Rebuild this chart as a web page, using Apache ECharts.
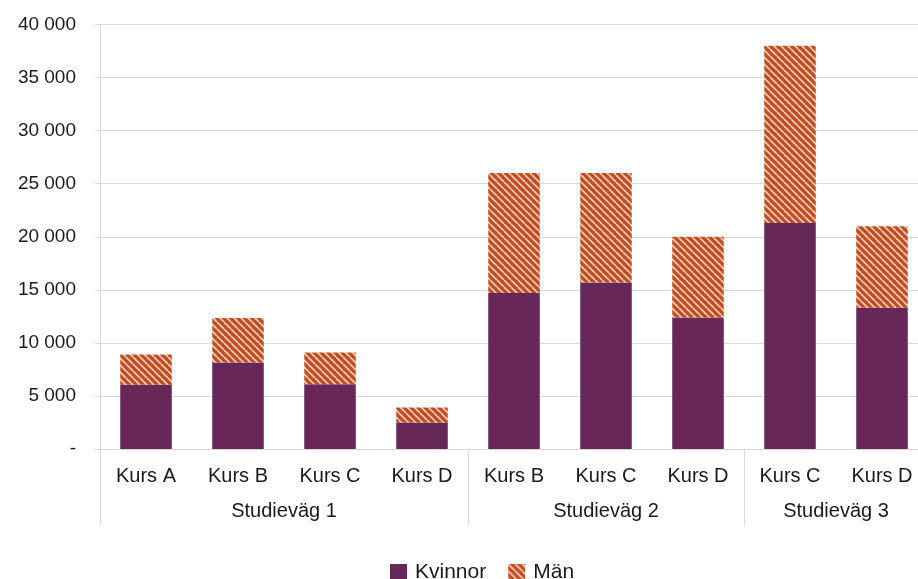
<!DOCTYPE html>
<html>
<head>
<meta charset="utf-8">
<script src="https://cdn.jsdelivr.net/npm/echarts@6/dist/echarts.min.js"></script>
<style>
html,body{margin:0;padding:0;background:#fff;overflow:hidden;width:918px;height:579px;}
#chart{width:928px;height:579px;}
</style>
</head>
<body>
<div id="chart"></div>
<script>
const courses = ['Kurs A','Kurs B','Kurs C','Kurs D','Kurs B','Kurs C','Kurs D','Kurs C','Kurs D'];
const groups = ['Studieväg 1','Studieväg 2','Studieväg 3'];
const groupSizes = [4,3,2];
const kvinnor = [6050, 8150, 6100, 2500, 14700, 15700, 12400, 21300, 13300];
const man = [2850, 4200, 3000, 1400, 11300, 10300, 7600, 16700, 7700];
const yTicks = [0,5000,10000,15000,20000,25000,30000,35000,40000];

// group boundaries and centers derived from group sizes
const bounds = [0];
groupSizes.forEach(s => bounds.push(bounds[bounds.length-1] + s));
const centers = groupSizes.map((s,i) => bounds[i] + s/2);

function hatch() {
  const c = document.createElement('canvas');
  const n = 7;
  c.width = n; c.height = n;
  const g = c.getContext('2d');
  g.fillStyle = '#c24d20';
  g.fillRect(0,0,n,n);
  g.strokeStyle = '#f2d0bf';
  g.lineWidth = 1.6;
  [-n,0,n].forEach(o => {
    g.beginPath(); g.moveTo(o,0); g.lineTo(o+n,n); g.stroke();
  });
  return c;
}

const chart = echarts.init(document.getElementById('chart'));
const font = 'Liberation Sans, Arial, sans-serif';
chart.setOption({
  animation:false,
  textStyle:{fontFamily:font},
  grid:{left:100, right:0, top:24.5, bottom:130},
  legend:{
    left:385, top:557, itemWidth:17, itemHeight:17, itemGap:22,
    icon:'rect',
    textStyle:{fontSize:21, color:'#1a1a1a', fontFamily:font, padding:[0,0,0,3]},
    data:['Kvinnor','Män']
  },
  xAxis:[{
    type:'category', data:courses,
    axisLine:{lineStyle:{color:'#d9d9d9', width:1}},
    axisTick:{show:false},
    axisLabel:{fontSize:20, color:'#1a1a1a', margin:17, interval:0}
  },{
    type:'value', position:'bottom', min:0, max:bounds[bounds.length-1],
    axisLine:{show:false},
    splitLine:{show:false},
    axisTick:{show:true, customValues:bounds, length:76, lineStyle:{color:'#d9d9d9', width:1}},
    axisLabel:{customValues:centers, fontSize:20, color:'#1a1a1a', margin:52,
      formatter:(v)=>{ const i = centers.indexOf(v); return i>=0 ? groups[i] : ''; }}
  }],
  yAxis:{
    type:'value', min:yTicks[0], max:yTicks[yTicks.length-1], interval:5000,
    axisLine:{show:true, lineStyle:{color:'#d9d9d9', width:1}},
    axisTick:{show:true, length:5, lineStyle:{color:'#d9d9d9'}},
    splitLine:{lineStyle:{color:'#d9d9d9', width:1}},
    axisLabel:{fontSize:19, color:'#1a1a1a', margin:24,
      formatter:(v)=> v===0 ? '-' : String(v).replace(/\B(?=(\d{3})+(?!\d))/g,' ')}
  },
  series:[{
    name:'Kvinnor', type:'bar', stack:'s', data:kvinnor, barWidth:'56%',
    itemStyle:{color:'#672759'}
  },{
    name:'Män', type:'bar', stack:'s', data:man, barWidth:'56%',
    itemStyle:{color:{image:hatch(), repeat:'repeat'}}
  }]
});
</script>
</body>
</html>
